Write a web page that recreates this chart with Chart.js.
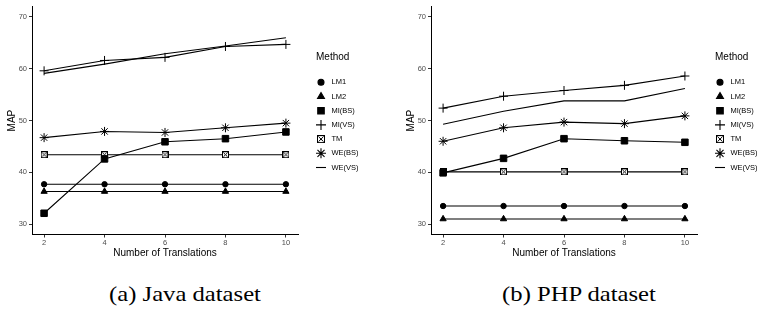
<!DOCTYPE html>
<html>
<head>
<meta charset="utf-8">
<script src="https://cdn.jsdelivr.net/npm/chart.js@4.4.1/dist/chart.umd.min.js"></script>
<style>
  html, body { margin: 0; padding: 0; background: #fff; }
  #wrap { position: relative; width: 764px; height: 312px; overflow: hidden; }
  canvas { position: absolute; top: 0; }
  .cap {
    position: absolute; top: 281px; width: 240px; text-align: center;
    font-family: "Liberation Serif", "DejaVu Serif", serif; font-size: 22px; color: #000;
    transform: scaleX(1.12); transform-origin: center;
  }
</style>
</head>
<body>
<div id="wrap">
  <canvas id="javaChart" width="365" height="270" style="left:0px"></canvas>
  <canvas id="phpChart" width="365" height="270" style="left:399px"></canvas>
  <div class="cap" style="left:65px">(a) Java dataset</div>
  <div class="cap" style="left:459px">(b) PHP dataset</div>
</div>
<script>
// x values and tick labels
const translations = [2, 4, 6, 8, 10];
const xTicks = [2, 4, 6, 8, 10];
const yTicks = [30, 40, 50, 60, 70];
const methods = ["LM1", "LM2", "MI(BS)", "MI(VS)", "TM", "WE(BS)", "WE(VS)"];

// Java dataset (MAP)
const javaLM1 = [37.7, 37.7, 37.7, 37.7, 37.7];
const javaLM2 = [36.3, 36.3, 36.3, 36.3, 36.3];
const javaMIBS = [32.1, 42.6, 45.9, 46.5, 47.8];
const javaMIVS = [59.6, 61.6, 62.2, 64.3, 64.7];
const javaTM = [43.4, 43.4, 43.4, 43.4, 43.4];
const javaWEBS = [46.7, 47.9, 47.7, 48.6, 49.5];
const javaWEVS = [59.1, 60.9, 62.9, 64.4, 66.0];

// PHP dataset (MAP)
const phpLM1 = [33.5, 33.5, 33.5, 33.5, 33.5];
const phpLM2 = [31.0, 31.0, 31.0, 31.0, 31.0];
const phpMIBS = [39.9, 42.7, 46.5, 46.1, 45.8];
const phpMIVS = [52.4, 54.7, 55.8, 56.8, 58.6];
const phpTM = [40.1, 40.1, 40.1, 40.1, 40.1];
const phpWEBS = [46.0, 48.6, 49.7, 49.4, 50.9];
const phpWEVS = [49.3, 51.8, 53.8, 53.8, 56.2];

Chart.defaults.font.family = '"Liberation Sans", Arial, sans-serif';

// square with an X inside (ggplot shape 7)
function boxedX(size) {
  const c = document.createElement("canvas");
  c.width = size; c.height = size;
  const g = c.getContext("2d");
  g.fillStyle = "#fff";
  g.fillRect(0, 0, size, size);
  g.strokeStyle = "#000";
  g.lineWidth = 1;
  g.strokeRect(0.5, 0.5, size - 1, size - 1);
  g.beginPath();
  g.moveTo(1.5, 1.5); g.lineTo(size - 1.5, size - 1.5);
  g.moveTo(size - 1.5, 1.5); g.lineTo(1.5, size - 1.5);
  g.stroke();
  return c;
}
const tmMark = boxedX(7);
const tmLegendMark = boxedX(8);

// marker per method: style, radius on the plot, radius in the legend
const shapes = {
  "LM1": { style: "circle", r: 2.7, lr: 3 },
  "LM2": { style: "triangle", r: 3.6, lr: 4 },
  "MI(BS)": { style: "rect", r: 4.6, lr: 4.6 },
  "MI(VS)": { style: "cross", r: 4.5, lr: 5 },
  "TM": { style: tmMark, legend: tmLegendMark, r: 4, lr: 4 },
  "WE(BS)": { style: "star", r: 4.5, lr: 5 },
  "WE(VS)": { style: "line", r: 0, lr: 5 }
};

function makeDatasets(series) {
  return methods.map((m, i) => ({
    label: m,
    data: translations.map((x, j) => ({ x: x, y: series[i][j] })),
    borderColor: "#000",
    backgroundColor: "#000",
    borderWidth: 1.1,
    tension: 0,
    pointStyle: shapes[m].style,
    pointRadius: shapes[m].r,
    pointBackgroundColor: "#000",
    pointBorderColor: "#000",
    pointBorderWidth: 1
  }));
}

const methodLegend = {
  id: "methodLegend",
  afterDraw(chart) {
    const { ctx, chartArea } = chart;
    const x0 = chartArea.right + 18;
    ctx.save();
    ctx.textBaseline = "middle";
    ctx.textAlign = "left";
    ctx.fillStyle = "#000";
    ctx.font = '10px "Liberation Sans", Arial, sans-serif';
    ctx.fillText("Method", x0, 57);
    ctx.font = '7.5px "Liberation Sans", Arial, sans-serif';
    methods.forEach((m, i) => {
      const y = 82.3 + i * 14.2;
      const s = shapes[m];
      ctx.fillStyle = "#000";
      ctx.strokeStyle = "#000";
      ctx.lineWidth = 1.1;
      Chart.helpers.drawPoint(ctx, { pointStyle: s.legend || s.style, radius: s.lr, borderWidth: 1.1, rotation: 0 }, x0 + 5, y);
      ctx.fillStyle = "#000";
      ctx.fillText(m, x0 + 15.5, y);
    });
    ctx.restore();
  }
};

function makeChart(id, series) {
  return new Chart(document.getElementById(id), {
    type: "line",
    data: { datasets: makeDatasets(series) },
    options: {
      responsive: false,
      animation: false,
      events: [],
      layout: { padding: { top: 6.6, right: 67, bottom: 0, left: 0 } },
      plugins: { legend: { display: false }, tooltip: { enabled: false } },
      scales: {
        x: {
          type: "linear",
          min: 1.6,
          max: 10.4,
          afterBuildTicks: s => { s.ticks = xTicks.map(v => ({ value: v })); },
          afterFit: s => { s.height = 35.5; },
          border: { display: true, color: "#000", width: 1 },
          grid: { display: true, drawOnChartArea: false, drawTicks: true, tickLength: 3, tickColor: "#333" },
          ticks: { color: "#4d4d4d", font: { size: 7.5 }, padding: 1, maxRotation: 0, autoSkip: false },
          title: { display: true, text: "Number of Translations", color: "#000", font: { size: 10 }, padding: { top: 0, bottom: 11 } }
        },
        y: {
          min: 28,
          max: 72,
          afterBuildTicks: s => { s.ticks = yTicks.map(v => ({ value: v })); },
          afterFit: s => { s.width = 32; },
          border: { display: true, color: "#000", width: 1 },
          grid: { display: true, drawOnChartArea: false, drawTicks: true, tickLength: 3, tickColor: "#333" },
          ticks: { color: "#4d4d4d", font: { size: 7.5 }, padding: 2 },
          title: { display: true, text: "MAP", color: "#000", font: { size: 10 }, padding: { top: 6.5, bottom: 0 } }
        }
      }
    },
    plugins: [methodLegend]
  });
}

makeChart("javaChart", [javaLM1, javaLM2, javaMIBS, javaMIVS, javaTM, javaWEBS, javaWEVS]);
makeChart("phpChart", [phpLM1, phpLM2, phpMIBS, phpMIVS, phpTM, phpWEBS, phpWEVS]);
</script>
</body>
</html>
